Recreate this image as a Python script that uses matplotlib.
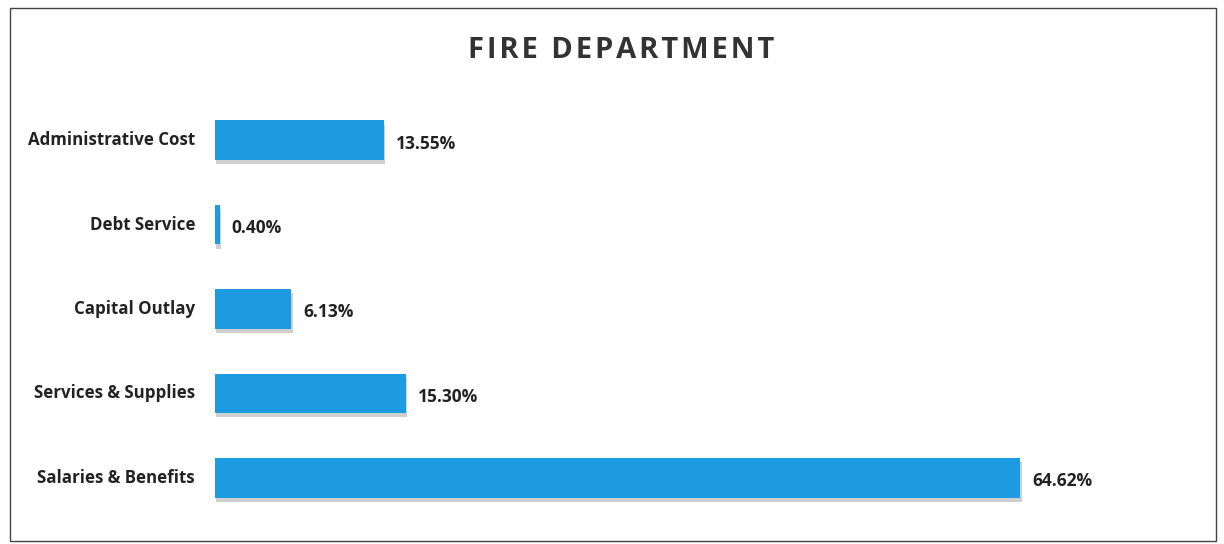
import matplotlib
matplotlib.use("Agg")
import matplotlib.pyplot as plt
from matplotlib.patches import Rectangle
import matplotlib.patheffects as pe

categories = ["Administrative Cost", "Debt Service", "Capital Outlay",
              "Services & Supplies", "Salaries & Benefits"]
values = [13.55, 0.40, 6.13, 15.30, 64.62]
value_labels = ["13.55%", "0.40%", "6.13%", "15.30%", "64.62%"]
title = "FIRE DEPARTMENT"

W, H = 1224, 544
fig = plt.figure(figsize=(W / 100, H / 100), dpi=100)
fig.patch.set_facecolor("white")

# outer border
fig.add_artist(Rectangle((10 / W, 1 - 541 / H), 1206 / W, 533 / H,
                         transform=fig.transFigure, fill=False,
                         edgecolor="#444444", linewidth=1.0))

font = ["Open Sans", "DejaVu Sans"]

ax_left = 215 / W
ax_right_px = 215 + 70 * 12.46
ax_top = 98
ax_bot = 520
ax = fig.add_axes([ax_left, 1 - ax_bot / H, (ax_right_px - 215) / W, (ax_bot - ax_top) / H])
ax.set_xlim(0, 70)
ax.set_ylim(len(categories) - 0.5, -0.5)
ax.axis("off")

ypos = list(range(len(categories)))
bars = ax.barh(ypos, values, height=0.47, color="#1c9be0", edgecolor="none")
for b in bars:
    b.set_path_effects([pe.SimplePatchShadow(offset=(1, -3), shadow_rgbFace="#888888", alpha=0.4),
                        pe.Normal()])

for y, v, lab, cat in zip(ypos, values, value_labels, categories):
    ax.text(v + 0.95, y + 0.04, lab, va="center", ha="left", fontsize=12.5,
            fontweight="bold", color="#222222", family=font)
    ax.text(-1.6, y, cat, va="center", ha="right", fontsize=12.2,
            fontweight="bold", color="#222222", family=font)

spaced = "\u200a".join(title)
fig.text(621 / W, 1 - 51 / H, spaced,
         ha="center", va="center", fontsize=21, fontweight="bold",
         color="#333333", family=font)

fig.savefig("out.png", dpi=100)
